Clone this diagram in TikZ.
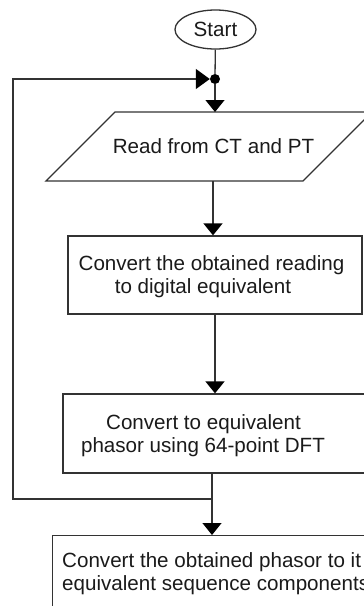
\documentclass[tikz,border=0pt]{standalone}
\usepackage{fontspec}
\setmainfont{Liberation Sans}
\usetikzlibrary{arrows.meta,shapes.geometric}
\definecolor{linec}{HTML}{333333}
\definecolor{textc}{HTML}{1A1A1A}
\begin{document}
\begin{tikzpicture}[x=1pt,y=-1pt]
\tikzset{
  ln/.style={draw=linec, line width=1.3pt},
  arr/.style={ln, -{Triangle[width=19pt,length=12pt,color=black]}},
  arrl/.style={ln, -{Triangle[width=20pt,length=14pt,color=black]}},
  txt/.style={font=\fontsize{20.6}{24}\selectfont, text=textc, inner sep=0pt},
  box/.style={draw=linec, line width=1.3pt, rectangle, inner sep=0pt},
}
\useasboundingbox (0,0) rectangle (364,606);
\clip (0,0) rectangle (364,606);
% start
\node[ellipse, draw=linec, line width=1.3pt, minimum width=81pt, minimum height=39pt, inner sep=0pt, txt] (start) at (215.5,29.5) {Start};
% junction dot
\node[circle, fill=black, minimum size=10pt, inner sep=0pt] (dot) at (215,79) {};
% parallelogram
\draw[ln] (115,112) -- (372,112) -- (303,181) -- (46,181) -- cycle;
\coordinate (pt) at (215,112);
\coordinate (pb) at (213,181);
\node[txt, anchor=base] (readtxt) at (213.5,153) {Read from CT and PT};
% rect 2
\node[box, minimum width=294pt, minimum height=78pt] (conv) at (215,275) {};
\node[txt, anchor=base] (conv1) at (211.5,270) {Convert the obtained reading};
\node[txt, anchor=base] (conv2) at (203,293) {to digital equivalent};
% rect 3
\node[box, minimum width=304pt, minimum height=79pt] (phasor) at (215,433.5) {};
\node[txt, anchor=base] (ph1) at (203.5,429) {Convert to equivalent};
\node[txt, anchor=base] (ph2) at (203,452) {phasor using 64-point DFT};
% rect 4
\node[box, minimum width=330pt, minimum height=100pt, anchor=north west] (seq) at (52,535) {};
\node[txt, anchor=base west] (seq1) at (62,567) {Convert the obtained phasor to it};
\node[txt, anchor=base west] (seq2) at (62,590) {equivalent sequence components};
% connectors
\coordinate (j) at (212,499);
\coordinate (lp) at (13,79);
\draw[ln] (start) -- (dot);
\draw[arr] (dot) -- (pt);
\draw[arr] (pb) -- (pb |- conv.north);
\draw[arr] (conv) -- (phasor);
\draw[ln] (j |- phasor.south) -- (j);
\draw[arr] (j) -- (j |- seq.north);
\draw[arrl] (j) -- (j -| lp) -- (lp) -- (dot);
\end{tikzpicture}
\end{document}
